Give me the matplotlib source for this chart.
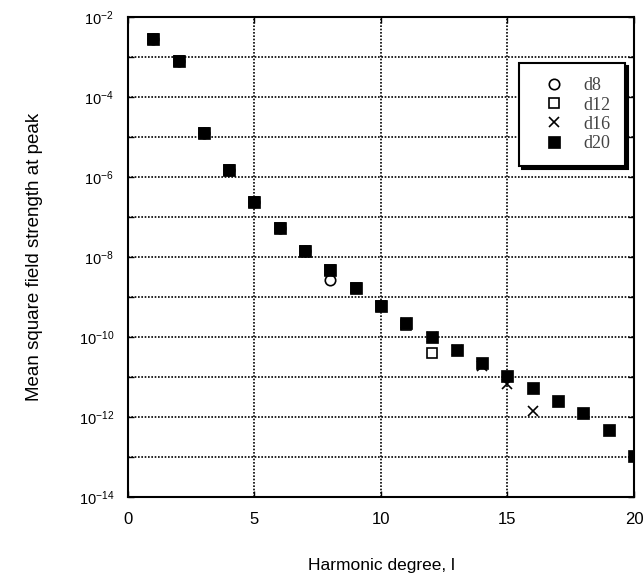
import matplotlib
matplotlib.use("Agg")
import matplotlib.pyplot as plt
import numpy as np

plt.rcParams['font.family'] = ['Liberation Sans', 'DejaVu Sans']
plt.rcParams['mathtext.fontset'] = 'custom'
plt.rcParams['mathtext.rm'] = 'Liberation Sans'
plt.rcParams['mathtext.it'] = 'Liberation Sans'
plt.rcParams['mathtext.default'] = 'regular'

# Data (harmonic degree vs mean square field strength at peak)
l_d8 = [1, 2, 3, 4, 5, 6, 7, 8]
v_d8 = [2.8e-3, 7.7e-4, 1.26e-5, 1.45e-6, 2.4e-7, 5.2e-8, 1.45e-8, 2.6e-9]

l_d12 = [1, 2, 3, 4, 5, 6, 7, 8, 9, 10, 11, 12]
v_d12 = [2.8e-3, 7.7e-4, 1.26e-5, 1.45e-6, 2.4e-7, 5.2e-8, 1.45e-8, 4.7e-9,
         1.65e-9, 6.0e-10, 2.0e-10, 4.0e-11]

l_d16 = [1, 2, 3, 4, 5, 6, 7, 8, 9, 10, 11, 12, 13, 14, 15, 16]
v_d16 = [2.8e-3, 7.7e-4, 1.26e-5, 1.45e-6, 2.4e-7, 5.2e-8, 1.45e-8, 4.7e-9,
         1.65e-9, 6.0e-10, 2.3e-10, 1.0e-10, 4.7e-11, 1.9e-11, 6.6e-12, 1.38e-12]

l_d20 = list(range(1, 21))
v_d20 = [2.8e-3, 7.7e-4, 1.26e-5, 1.45e-6, 2.4e-7, 5.2e-8, 1.45e-8, 4.7e-9,
         1.65e-9, 6.0e-10, 2.3e-10, 1.02e-10, 4.7e-11, 2.2e-11, 1.07e-11,
         5.2e-12, 2.57e-12, 1.23e-12, 4.6e-13, 1.07e-13]

x_ticks = [0, 5, 10, 15, 20]
y_exps = [-2, -4, -6, -8, -10, -12, -14]

fig = plt.figure(figsize=(6.43, 5.83), dpi=100)
ax = fig.add_axes([0.199, 0.1475, 0.787, 0.8235])

ax.plot(l_d8, v_d8, linestyle='none', marker='o', ms=7.5, mfc='white',
        mec='black', mew=1.2, label='d8', zorder=3)
ax.plot(l_d12, v_d12, linestyle='none', marker='s', ms=7.5, mfc='white',
        mec='black', mew=1.2, label='d12', zorder=3)
ax.plot(l_d16, v_d16, linestyle='none', marker='x', ms=7, mec='black',
        mew=1.2, label='d16', zorder=3)
ax.plot(l_d20, v_d20, linestyle='none', marker='s', ms=9, mfc='black',
        mec='black', mew=0.5, label='d20', zorder=4)

ax.set_yscale('log')
ax.set_xlim(0, 20)
ax.set_ylim(1e-14, 1e-2)
ax.set_xticks(x_ticks)
ax.set_xticklabels([str(t) for t in x_ticks])
ax.set_yticks([10.0 ** e for e in range(-14, -1)])
ax.set_yticklabels(['$10^{%d}$' % e if e in y_exps else '' for e in range(-14, -1)])
ax.minorticks_off()
ax.tick_params(axis='both', which='major', direction='in', length=4,
               width=1, top=True, right=True)
ax.tick_params(axis='x', labelsize=12, pad=11)
ax.tick_params(axis='y', labelsize=10.5, pad=10)

ax.grid(True, which='major', color='black', linestyle=(0, (1, 1)), linewidth=1.2)
for s in ax.spines.values():
    s.set_linewidth(1.5)
    s.set_color('black')

ax.set_xlabel('Harmonic degree, l', fontsize=12.5, labelpad=22)
ax.set_ylabel('Mean square field strength at peak', fontsize=13.5, labelpad=26)

leg = ax.legend(loc='upper right', bbox_to_anchor=(0.982, 0.904),
                prop={'family': 'Liberation Serif', 'size': 13},
                frameon=True, fancybox=False, shadow={'color': 'black', 'alpha': 1},
                borderpad=0.8, labelspacing=0.12, handletextpad=0.45,
                handlelength=2.3, borderaxespad=0)
leg.get_frame().set_edgecolor('black')
leg.get_frame().set_linewidth(1.5)
for t in leg.get_texts():
    t.set_color('#444444')

fig.savefig('out.png', dpi=100)
